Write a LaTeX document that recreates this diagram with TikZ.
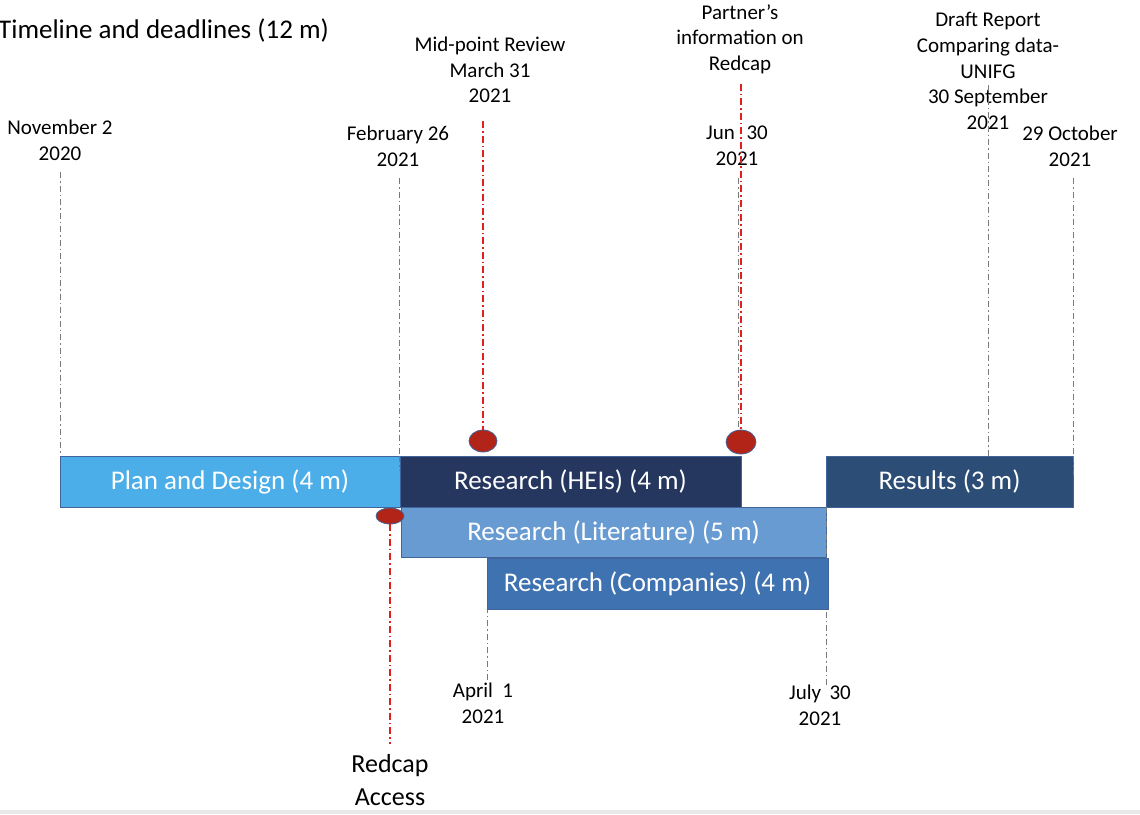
\documentclass[tikz,border=0pt]{standalone}
\usepackage{fontspec}
\setmainfont{Carlito}
\usetikzlibrary{shapes.geometric}
\definecolor{planc}{HTML}{4BAEE8}
\definecolor{heic}{HTML}{25375F}
\definecolor{litc}{HTML}{689BD2}
\definecolor{compc}{HTML}{3F72B0}
\definecolor{resc}{HTML}{2C4D75}
\definecolor{barborder}{HTML}{41649A}
\definecolor{redfill}{HTML}{B22418}
\definecolor{redline}{HTML}{E0201C}
\definecolor{greyline}{HTML}{7A7A7A}
\tikzset{
  bar/.style={draw=barborder, line width=0.8pt, rectangle, inner sep=0pt, text=white,
    font=\fontsize{27}{32}\selectfont},
  lbl/.style={align=center, inner sep=0pt, font=\fontsize{21}{25.6}\selectfont},
  gline/.style={draw=greyline, line width=1pt, dash pattern=on 6pt off 3pt on 1.5pt off 3pt},
  rline/.style={draw=redline, line width=1.4pt, dash pattern=on 7pt off 3pt on 1.5pt off 3pt},
  milestone/.style={ellipse, draw=barborder, fill=redfill, line width=0.8pt, inner sep=0pt}
}
\begin{document}
\begin{tikzpicture}[x=1pt, y=-1pt]
\useasboundingbox (0,0) rectangle (1140,814);
\fill[gray!18] (0,810) rectangle (1140,814);

% labels
\node[anchor=west, inner sep=0pt, font=\fontsize{27}{32}\selectfont] (title) at (-2,30) {Timeline and deadlines (12 m)};
\node[lbl] (mid) at (490,70) {Mid-point Review\\March 31\\2021};
\node[lbl] (partner) at (740,39) {Partner’s\\information on\\Redcap};
\node[lbl] (draft) at (988,71) {Draft Report\\Comparing data-\\UNIFG\\30 September\\2021};
\node[lbl] (nov) at (60,140) {November 2\\2020};
\node[lbl] (feb) at (398,146) {February 26\\2021};
\node[lbl] (jun) at (737,146) {Jun\hspace{0.55em}30\\2021};
\node[lbl] (oct) at (1070,146) {29 October\\2021};
\node[lbl] (apr) at (483,703) {April\hspace{0.45em}1\\2021};
\node[lbl] (jul) at (820,705) {July\hspace{0.4em}30\\2021};
\node[align=center, inner sep=0pt, font=\fontsize{26}{33}\selectfont] (redcap) at (390,780) {Redcap\\Access};

% coordinates for line ends
\coordinate (novtop) at (60,172);
\coordinate (febtop) at (399,178);
\coordinate (juntop) at (738,178);
\coordinate (drafttop) at (988,85);
\coordinate (octtop) at (1073,178);
\coordinate (octbot) at (1073,475);
\coordinate (aprbot) at (487,680);
\coordinate (julbot) at (826,685);
\coordinate (febbot) at (399,470);

% grey guide lines (under bars)
\draw[gline] (novtop) -- (60,456);
\draw[gline] (febtop) -- (febbot);
\draw[gline] (juntop) -- (738,456);
\draw[gline] (drafttop) -- (988,456);
\draw[gline] (octtop) -- (octbot);
\draw[gline] (aprbot) -- (487,609);
\draw[gline] (julbot) -- (826,507);

% bars
\node[bar, fill=planc, minimum width=340pt, minimum height=51pt] (plan) at (230,481.5) {Plan and Design (4 m)};
\node[bar, fill=heic, minimum width=341pt, minimum height=51pt] (hei) at (570.5,481.5) {Research (HEIs) (4 m)};
\node[bar, fill=litc, minimum width=425pt, minimum height=50pt] (lit) at (613.5,532) {Research (Literature) (5 m)};
\node[bar, fill=compc, minimum width=341pt, minimum height=51pt] (comp) at (657.5,583.5) {Research (Companies) (4 m)};
\node[bar, fill=resc, minimum width=247pt, minimum height=51pt] (res) at (949.5,481.5) {Results (3 m)};

% re-draw visible pieces of guides over bar edges
\draw[gline] (399,456) -- (febbot);
\draw[gline] (1073,456) -- (octbot);
\draw[gline] (826,507) -- (826,557);

% milestones
\node[milestone, minimum width=28pt, minimum height=22pt] (e1) at (483,441) {};
\node[milestone, minimum width=30pt, minimum height=24pt] (e2) at (741,442) {};
\node[milestone, minimum width=28pt, minimum height=16pt] (e3) at (390,516) {};

% red lines
\draw[rline] ([yshift=-18pt]e1.north |- mid.south) -- (e1.north);
\draw[rline] ([yshift=-10pt]e2.north |- partner.south) -- (e2.north);
\draw[rline] (e3.south) -- ([yshift=10pt]e3.south |- redcap.north);
\end{tikzpicture}
\end{document}
